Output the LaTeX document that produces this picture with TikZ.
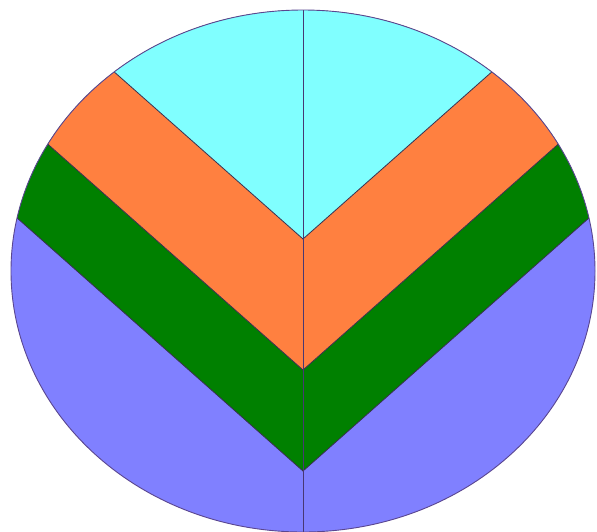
\documentclass[tikz,border=0pt]{standalone}
\definecolor{cyanband}{HTML}{80FFFF}
\definecolor{orangeband}{HTML}{FF8040}
\definecolor{greenband}{HTML}{008000}
\definecolor{blueband}{HTML}{8080FF}
\definecolor{rim}{HTML}{5A4690}
\definecolor{seam}{HTML}{3A3050}
\begin{document}
\begin{tikzpicture}[x=1pt,y=-1pt,
  seamline/.style={draw=seam, line width=0.8pt},
  rimline/.style={draw=rim, line width=0.9pt},
  axisline/.style={draw=rim!80!black, line width=1pt}]
\useasboundingbox (0,0) rectangle (597,531);
\coordinate (c) at (303,271);
\coordinate (vcyan) at (303,239);
\coordinate (vorange) at (303,370);
\coordinate (vgreen) at (303,471);
\begin{scope}
  \clip (c) ellipse [x radius=292, y radius=261];
  \fill[blueband] (0,0) rectangle (597,540);
  \fill[greenband] (vgreen) -- ++(-400,-354) -- ++(0,-700) -- ++(800,0) -- ++(0,700) -- cycle;
  \fill[orangeband] (vorange) -- ++(-400,-354) -- ++(0,-700) -- ++(800,0) -- ++(0,700) -- cycle;
  \fill[cyanband] (vcyan) -- ++(-400,-354) -- ++(0,-700) -- ++(800,0) -- ++(0,700) -- cycle;
  \draw[seamline] (vgreen) ++(-400,-354) -- (vgreen) -- ++(400,-354);
  \draw[seamline] (vorange) ++(-400,-354) -- (vorange) -- ++(400,-354);
  \draw[seamline] (vcyan) ++(-400,-354) -- (vcyan) -- ++(400,-354);
  \draw[axisline] (303,0) -- (303,540);
\end{scope}
\draw[rimline] (c) ellipse [x radius=292, y radius=261];
\end{tikzpicture}
\end{document}
